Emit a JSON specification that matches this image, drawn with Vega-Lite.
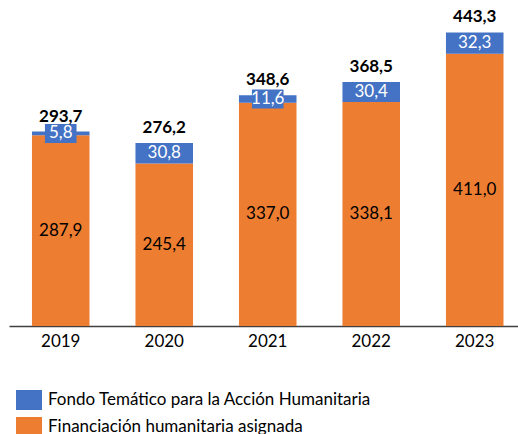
{
  "$schema": "https://vega.github.io/schema/vega-lite/v6.json",
  "width": 509,
  "height": 298,
  "autosize": {"type": "none"},
  "padding": {"left": 9, "top": 28, "right": 0, "bottom": 108},
  "config": {
    "view": {"stroke": null},
    "font": "Lato",
    "locale": {"number": {"decimal": ",", "thousands": ".", "grouping": [3], "currency": ["", " €"]}}
  },
  "datasets": {
    "parts": [
      {"year": "2019", "serie": "Financiación humanitaria asignada", "value": 287.9, "ord": 1},
      {"year": "2019", "serie": "Fondo Temático para la Acción Humanitaria", "value": 5.8, "ord": 2},
      {"year": "2020", "serie": "Financiación humanitaria asignada", "value": 245.4, "ord": 1},
      {"year": "2020", "serie": "Fondo Temático para la Acción Humanitaria", "value": 30.8, "ord": 2},
      {"year": "2021", "serie": "Financiación humanitaria asignada", "value": 337.0, "ord": 1},
      {"year": "2021", "serie": "Fondo Temático para la Acción Humanitaria", "value": 11.6, "ord": 2},
      {"year": "2022", "serie": "Financiación humanitaria asignada", "value": 338.1, "ord": 1},
      {"year": "2022", "serie": "Fondo Temático para la Acción Humanitaria", "value": 30.4, "ord": 2},
      {"year": "2023", "serie": "Financiación humanitaria asignada", "value": 411.0, "ord": 1},
      {"year": "2023", "serie": "Fondo Temático para la Acción Humanitaria", "value": 32.3, "ord": 2}
    ],
    "totals": [
      {"year": "2019", "total": 293.7},
      {"year": "2020", "total": 276.2},
      {"year": "2021", "total": 348.6},
      {"year": "2022", "total": 368.5},
      {"year": "2023", "total": 443.3}
    ]
  },
  "encoding": {
    "x": {
      "field": "year",
      "type": "nominal",
      "scale": {"paddingInner": 0.444, "paddingOuter": 0.181, "align": 0.613},
      "axis": {
        "title": null,
        "labelAngle": 0,
        "ticks": false,
        "labelFontSize": 17,
        "labelColor": "#000000",
        "labelPadding": 7,
        "domainColor": "#404040",
        "domainWidth": 1.3
      }
    }
  },
  "layer": [
    {
      "data": {"name": "parts"},
      "transform": [
        {"stack": "value", "groupby": ["year"], "sort": [{"field": "ord"}], "as": ["v0", "v1"]}
      ],
      "mark": {"type": "bar"},
      "encoding": {
        "y": {"field": "v0", "type": "quantitative", "scale": {"domain": [0, 450], "nice": false}, "axis": null},
        "y2": {"field": "v1"},
        "color": {
          "field": "serie",
          "type": "nominal",
          "scale": {
            "domain": ["Fondo Temático para la Acción Humanitaria", "Financiación humanitaria asignada"],
            "range": ["#4472C4", "#ED7D31"]
          },
          "legend": {
            "orient": "none",
            "legendX": 10,
            "legendY": 362,
            "title": null,
            "padding": 0,
            "symbolType": "M-1.3,-1H1.3V1H-1.3Z",
            "symbolSize": 400,
            "symbolStrokeWidth": 0,
            "symbolOpacity": 1,
            "labelFontSize": 17,
            "labelOffset": 9,
            "rowPadding": 7,
            "labelColor": "#000000",
            "labelLimit": 500
          }
        }
      }
    },
    {
      "data": {"name": "parts"},
      "transform": [
        {"stack": "value", "groupby": ["year"], "sort": [{"field": "ord"}], "as": ["v0", "v1"]},
        {"calculate": "(datum.v0 + datum.v1) / 2", "as": "mid"},
        {"filter": "datum.ord == 2"}
      ],
      "mark": {"type": "point", "shape": "M-1,-0.6H1V0.6H-1Z", "filled": true, "size": 1000, "color": "#4472C4", "opacity": 1, "strokeWidth": 0},
      "encoding": {
        "y": {"field": "mid", "type": "quantitative"}
      }
    },
    {
      "data": {"name": "parts"},
      "transform": [
        {"stack": "value", "groupby": ["year"], "sort": [{"field": "ord"}], "as": ["v0", "v1"]},
        {"calculate": "(datum.v0 + datum.v1) / 2", "as": "mid"}
      ],
      "mark": {"type": "text", "fontSize": 17, "baseline": "middle"},
      "encoding": {
        "y": {"field": "mid", "type": "quantitative"},
        "text": {"field": "value", "type": "quantitative", "format": ".1f"},
        "color": {"condition": {"test": "datum.ord == 2", "value": "#FFFFFF"}, "value": "#000000"}
      }
    },
    {
      "data": {"name": "totals"},
      "mark": {"type": "text", "fontSize": 17, "fontWeight": "bold", "baseline": "alphabetic", "dy": -10, "color": "#000000"},
      "encoding": {
        "y": {"field": "total", "type": "quantitative"},
        "text": {"field": "total", "type": "quantitative", "format": ".1f"}
      }
    }
  ]
}
